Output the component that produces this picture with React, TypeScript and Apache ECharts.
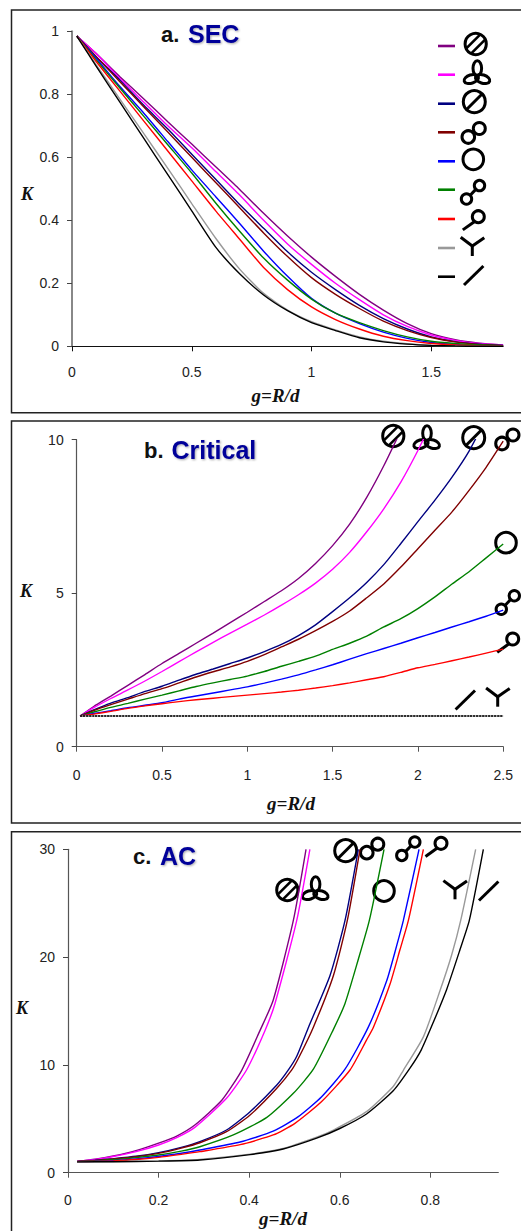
import React, { useEffect, useRef } from "react";
import * as echarts from "echarts";

// ---------- Panel a: SEC ----------
const secG = [0.02, 0.1, 0.2, 0.3, 0.4, 0.5, 0.6, 0.7, 0.8, 0.9, 1, 1.1, 1.2, 1.3, 1.4, 1.5, 1.6, 1.7, 1.8];
const secPurple = [0.985, 0.93, 0.856, 0.785, 0.713, 0.642, 0.57, 0.498, 0.422, 0.35, 0.283, 0.222, 0.165, 0.115, 0.072, 0.04, 0.021, 0.01, 0.004];
const secMagenta = [0.985, 0.93, 0.85, 0.775, 0.7, 0.63, 0.555, 0.48, 0.4, 0.325, 0.26, 0.2, 0.148, 0.1, 0.063, 0.036, 0.019, 0.009, 0.004];
const secNavy = [0.985, 0.92, 0.845, 0.765, 0.69, 0.61, 0.53, 0.45, 0.375, 0.3, 0.235, 0.18, 0.13, 0.088, 0.055, 0.03, 0.015, 0.007, 0.003];
const secMaroon = [0.985, 0.92, 0.84, 0.76, 0.68, 0.6, 0.52, 0.44, 0.36, 0.285, 0.218, 0.165, 0.12, 0.08, 0.05, 0.028, 0.014, 0.006, 0.002];
const secBlue = [0.985, 0.915, 0.825, 0.74, 0.65, 0.56, 0.475, 0.39, 0.302, 0.222, 0.152, 0.105, 0.072, 0.045, 0.025, 0.012, 0.006, 0.003, 0.001];
const secGreen = [0.985, 0.91, 0.82, 0.73, 0.64, 0.55, 0.455, 0.365, 0.28, 0.21, 0.15, 0.105, 0.075, 0.05, 0.03, 0.016, 0.009, 0.004, 0.002];
const secRed = [0.985, 0.905, 0.81, 0.715, 0.62, 0.525, 0.43, 0.34, 0.25, 0.18, 0.125, 0.085, 0.055, 0.032, 0.018, 0.009, 0.004, 0.002, 0.001];
const secGray = [0.985, 0.895, 0.785, 0.675, 0.565, 0.453, 0.343, 0.245, 0.168, 0.115, 0.078, 0.052, 0.03, 0.016, 0.008, 0.003, 0.001, 0.0005, 0];
const secBlack = [0.985, 0.89, 0.775, 0.66, 0.545, 0.43, 0.315, 0.23, 0.163, 0.113, 0.075, 0.05, 0.027, 0.014, 0.007, 0.003, 0.001, 0, 0];

// ---------- Panel b: Critical ----------
const critG = [0.02, 0.1, 0.2, 0.3, 0.4, 0.5, 0.6, 0.7, 0.8, 0.9, 1, 1.1, 1.2, 1.3, 1.4, 1.5, 1.6, 1.7, 1.8, 1.9, 2, 2.1, 2.2, 2.3, 2.4, 2.5];
const critPurple = [1, 1.31, 1.65, 2, 2.35, 2.71, 3.04, 3.37, 3.7, 4.04, 4.38, 4.73, 5.08, 5.48, 5.97, 6.55, 7.25, 8.12, 9.15, 10.3];
const critMagenta = [1, 1.27, 1.57, 1.85, 2.14, 2.45, 2.77, 3.09, 3.4, 3.7, 3.99, 4.29, 4.61, 4.95, 5.33, 5.78, 6.33, 7, 7.75, 8.62, 9.65, 10.8];
const critNavy = [1, 1.2, 1.42, 1.6, 1.8, 1.97, 2.17, 2.36, 2.53, 2.71, 2.89, 3.1, 3.33, 3.62, 3.97, 4.4, 4.85, 5.35, 5.93, 6.62, 7.33, 8.03, 8.78, 9.63, 10.7];
const critMaroon = [1, 1.18, 1.37, 1.55, 1.73, 1.89, 2.08, 2.27, 2.44, 2.6, 2.78, 3, 3.25, 3.5, 3.78, 4.08, 4.42, 4.85, 5.3, 5.85, 6.45, 7.05, 7.65, 8.35, 9.1, 9.95];
const critGreen = [1, 1.13, 1.28, 1.41, 1.55, 1.68, 1.82, 1.96, 2.08, 2.19, 2.3, 2.45, 2.62, 2.78, 2.95, 3.17, 3.37, 3.6, 3.9, 4.17, 4.5, 4.88, 5.3, 5.7, 6.15, 6.6];
const critBlue = [1, 1.08, 1.17, 1.27, 1.35, 1.43, 1.55, 1.65, 1.75, 1.85, 1.95, 2.07, 2.2, 2.34, 2.5, 2.67, 2.85, 3.03, 3.2, 3.37, 3.55, 3.72, 3.9, 4.07, 4.25, 4.45];
const critRed = [1, 1.06, 1.15, 1.25, 1.33, 1.4, 1.47, 1.53, 1.58, 1.63, 1.68, 1.73, 1.78, 1.84, 1.91, 1.99, 2.08, 2.18, 2.28, 2.42, 2.57, 2.68, 2.8, 2.92, 3.05, 3.18];
const critGray = [1, 1, 1, 1, 1, 1, 1, 1, 1, 1, 1, 1, 1, 1, 1, 1, 1, 1, 1, 1, 1, 1, 1, 1, 1, 1];
const critBlack = [1, 1, 1, 1, 1, 1, 1, 1, 1, 1, 1, 1, 1, 1, 1, 1, 1, 1, 1, 1, 1, 1, 1, 1, 1, 1];

// ---------- Panel c: AC, as [g, K] readings ----------
const acPurple = [[0.02, 1.05], [0.06, 1.25], [0.1, 1.55], [0.15, 2.05], [0.2, 2.75], [0.24, 3.4], [0.28, 4.42], [0.34, 6.74], [0.3835, 9.5], [0.424, 13.2], [0.453, 16], [0.4975, 23.4], [0.5255, 30]];
const acMagenta = [[0.02, 1.05], [0.06, 1.22], [0.1, 1.5], [0.15, 1.95], [0.2, 2.57], [0.24, 3.25], [0.28, 4.2], [0.35, 6.9], [0.3945, 9.55], [0.435, 13.2], [0.457, 15.7], [0.505, 23.4], [0.534, 30]];
const acNavy = [[0.02, 1.05], [0.06, 1.15], [0.1, 1.3], [0.15, 1.52], [0.2, 1.86], [0.25, 2.35], [0.291, 2.88], [0.35, 3.96], [0.402, 5.66], [0.461, 8.13], [0.4865, 9.53], [0.505, 10.8], [0.531, 13.5], [0.5785, 18.3], [0.6116, 23.4], [0.641, 30]];
const acMaroon = [[0.02, 1.05], [0.06, 1.13], [0.1, 1.27], [0.15, 1.48], [0.2, 1.79], [0.25, 2.28], [0.291, 2.78], [0.35, 3.8], [0.402, 5.35], [0.461, 7.83], [0.494, 9.53], [0.511, 10.8], [0.5417, 13.5], [0.586, 18.3], [0.6167, 23.4], [0.6447, 30]];
const acGreen = [[0.02, 1.03], [0.06, 1.1], [0.1, 1.2], [0.15, 1.4], [0.2, 1.64], [0.25, 2], [0.291, 2.41], [0.365, 3.5], [0.439, 5.13], [0.4975, 7.36], [0.5417, 9.6], [0.586, 13.3], [0.6116, 15.7], [0.641, 19.8], [0.6653, 23.4], [0.6977, 30]];
const acBlue = [[0.02, 1.03], [0.06, 1.06], [0.1, 1.12], [0.15, 1.28], [0.2, 1.5], [0.25, 1.8], [0.291, 2.1], [0.38, 2.85], [0.453, 3.85], [0.5085, 5.2], [0.56, 7.05], [0.6116, 9.6], [0.663, 13.5], [0.7036, 17.8], [0.722, 20.5], [0.7404, 23.4], [0.775, 30]];
const acRed = [[0.02, 1.03], [0.06, 1.05], [0.1, 1.1], [0.15, 1.22], [0.2, 1.42], [0.25, 1.7], [0.291, 1.95], [0.38, 2.6], [0.453, 3.5], [0.501, 4.58], [0.56, 6.6], [0.6226, 9.53], [0.659, 12.3], [0.6743, 13.5], [0.711, 17.5], [0.733, 20.7], [0.7515, 23.4], [0.7846, 30]];
const acGray = [[0.02, 1], [0.1, 1.03], [0.2, 1.1], [0.291, 1.24], [0.402, 1.72], [0.475, 2.25], [0.549, 3.3], [0.586, 3.96], [0.659, 5.66], [0.718, 8], [0.7404, 9.5], [0.7846, 12.6], [0.8214, 16.9], [0.847, 20.2], [0.867, 23.4], [0.9, 30]];
const acBlack = [[0.02, 1], [0.1, 1.02], [0.2, 1.07], [0.291, 1.18], [0.402, 1.68], [0.475, 2.2], [0.549, 3.2], [0.6, 4.1], [0.659, 5.45], [0.718, 7.6], [0.755, 9.7], [0.78, 11.4], [0.807, 14], [0.836, 17], [0.8655, 20.7], [0.886, 23.4], [0.917, 30]];

// ---------- Axis ticks ----------
const secXTicks = [0, 0.5, 1, 1.5];
const secYTicks = [0, 0.2, 0.4, 0.6, 0.8, 1];
const critXTicks = [0, 0.5, 1, 1.5, 2, 2.5];
const critYTicks = [0, 5, 10];
const acXTicks = [0, 0.2, 0.4, 0.6, 0.8];
const acYTicks = [0, 10, 20, 30];

const seriesNames = ["striped circle x2", "trefoil", "striped circle", "two overlapping", "circle", "dumbbell", "lollipop", "Y", "line"];
const seriesColors = ["#800080", "#FF00FF", "#000080", "#800000", "#0000FF", "#008000", "#FF0000", "#999999", "#000000"];
const lowerPanelColors = ["#800080", "#FF00FF", "#000080", "#800000", "#008000", "#0000FF", "#FF0000", "#999999", "#000000"];

const SANS = '"Liberation Sans", Arial, sans-serif';
const SERIF = '"Liberation Serif", "Times New Roman", serif';

type P = [number, number];
const SW = 3;
const line = (a: P, b: P, w = SW) => ({
  type: "line",
  shape: { x1: a[0], y1: a[1], x2: b[0], y2: b[1] },
  style: { stroke: "#000", lineWidth: w, fill: "none" },
});
const circle = (c: P, r: number, w = SW) => ({
  type: "circle",
  shape: { cx: c[0], cy: c[1], r },
  style: { stroke: "#000", lineWidth: w, fill: "none" },
});
const ellipse = (c: P, rx: number, ry: number, rotation: number) => ({
  type: "ellipse",
  x: c[0],
  y: c[1],
  rotation,
  shape: { cx: 0, cy: 0, rx, ry },
  style: { stroke: "#000", lineWidth: SW, fill: "none" },
});

function icon(kind: string, cx: number, cy: number): any[] {
  const at = (dx: number, dy: number): P => [cx + dx, cy + dy];
  switch (kind) {
    case "hatched":
      return [circle(at(0, 0), 10.6), line(at(-4.9, 9.9), at(9.9, -4.9), 2.6), line(at(-9.9, 4.9), at(4.9, -9.9), 2.6)];
    case "tri":
      return [ellipse(at(1.3, -6.7), 4.3, 7.5, 0), ellipse(at(-4.7, 4), 7.4, 4.2, 0.3), ellipse(at(6.6, 4), 7.4, 4.2, -0.3)];
    case "slashed":
      return [circle(at(0, 0), 11), line(at(-8, 8), at(8, -8))];
    case "two":
      return [circle(at(-5.5, 4), 6.3), circle(at(5.5, -4.5), 6)];
    case "ring":
      return [circle(at(0, 0), 10.3)];
    case "dumbbell":
      return [circle(at(-6.5, 6.7), 5.2), circle(at(6.5, -6.7), 5.2), line(at(-3, 3.2), at(3, -3.2))];
    case "tail":
      return [circle(at(0, 0), 6), line(at(-4, 5), at(-15.5, 13.2))];
    case "Y":
      return [line(at(0, 0), at(-11.6, -8.7)), line(at(0, 0), at(12, -8.3)), line(at(0, -1), at(0, 10))];
    case "slash":
      return [line(at(-9.7, 9.5), at(9.7, -9.5))];
  }
  return [];
}

const legendKinds = ["hatched", "tri", "slashed", "two", "ring", "dumbbell", "tail", "Y", "slash"];
const legendSwatchY = [46, 74.7, 103.7, 132.3, 161.3, 189.7, 219, 248, 276.7];
const legendIconPos: P[] = [[475.7, 44], [476, 75], [474.3, 101.7], [473.8, 133], [473.3, 159.3], [473, 192.3], [478.3, 216.7], [472.3, 246], [473.7, 275.5]];
const critIconPos: [string, number, number][] = [
  ["hatched", 393.3, 436], ["tri", 425.7, 440], ["slashed", 473.7, 437.7], ["two", 507.5, 439.5],
  ["ring", 506, 542.7], ["dumbbell", 507.8, 602.5], ["tail", 512.7, 639], ["slash", 465.3, 700], ["Y", 497.7, 696.7],
];
const acIconPos: [string, number, number][] = [
  ["hatched", 287.3, 890], ["tri", 314.3, 891], ["slashed", 345.7, 850.7], ["two", 372.3, 848.7],
  ["ring", 384, 891], ["dumbbell", 408.3, 848.7], ["tail", 441, 843.3], ["Y", 455, 889.3], ["slash", 488.7, 891],
];

const text = (s: string, x: number, y: number, font: string, fill: string, align = "left", extra: any = {}) => ({
  type: "text",
  x,
  y,
  style: { text: s, font, fill, align, verticalAlign: "middle", ...extra },
});
const titleTone = "#000099";
const shadow = { textShadowColor: "rgba(0,0,0,0.35)", textShadowBlur: 2, textShadowOffsetX: 1, textShadowOffsetY: 1 };

function buildOption() {
  const grids = [
    { left: 72, top: 31.3, width: 431.1, height: 315 },
    { left: 76.7, top: 439.7, width: 426.5, height: 307 },
    { left: 68, top: 849.3, width: 430.3, height: 323.4 },
  ];
  const labelStyle = { fontFamily: SANS, fontSize: 14, color: "#222" };
  const xAxis = (gridIndex: number, max: number, ticks: number[], lineColor: string, margin: number) => ({
    type: "value", gridIndex, min: 0, max,
    splitLine: { show: false },
    axisLine: { onZero: false, lineStyle: { color: lineColor, width: 1.2 } },
    axisTick: { length: 5, lineStyle: { color: lineColor, width: 1 }, customValues: ticks },
    axisLabel: { ...labelStyle, margin, customValues: ticks },
  });
  const yAxis = (gridIndex: number, max: number, ticks: number[], lineColor: string, lineWidth: number) => ({
    type: "value", gridIndex, min: 0, max,
    splitLine: { show: false },
    axisLine: { show: true, onZero: false, lineStyle: { color: lineColor, width: lineWidth } },
    axisTick: { show: true, length: 5, lineStyle: { color: "#444", width: 1 }, customValues: ticks },
    axisLabel: { ...labelStyle, margin: 13, customValues: ticks },
  });

  const secVals = [secPurple, secMagenta, secNavy, secMaroon, secBlue, secGreen, secRed, secGray, secBlack];
  const critVals = [critPurple, critMagenta, critNavy, critMaroon, critGreen, critBlue, critRed, critGray, critBlack];
  const acVals = [acPurple, acMagenta, acNavy, acMaroon, acGreen, acBlue, acRed, acGray, acBlack];

  const mk = (name: string, color: string, data: any[], gridIndex: number, extra: any = {}) => ({
    type: "line", name, xAxisIndex: gridIndex, yAxisIndex: gridIndex, data,
    showSymbol: false, symbol: "none", smooth: 0.2, clip: true,
    lineStyle: { color, width: 1.4, ...extra },
    itemStyle: { color },
    z: 3,
  });
  const series: any[] = [];
  secVals.forEach((v, i) => series.push(mk(seriesNames[i], seriesColors[i], v.map((k, j) => [secG[j], k]), 0)));
  critVals.forEach((v, i) =>
    series.push(mk(seriesNames[i], lowerPanelColors[i], v.map((k, j) => [critG[j], k]), 1, i === 8 ? { type: [2, 1] } : {})),
  );
  acVals.forEach((v, i) => series.push(mk(seriesNames[i], lowerPanelColors[i], v, 2)));

  const graphic: any[] = [];
  const frame = (y: number, h: number) => ({
    type: "rect",
    shape: { x: 11.5, y, width: 540, height: h },
    style: { stroke: "#222", lineWidth: 1.5, fill: "none" },
    z: 1,
  });
  graphic.push(frame(10, 402.7), frame(421, 402), frame(831.7, 440));

  legendSwatchY.forEach((y, i) => {
    graphic.push({
      type: "line",
      shape: { x1: 438, y1: y, x2: 455, y2: y },
      style: { stroke: seriesColors[i], lineWidth: 2.6 },
    });
    graphic.push(...icon(legendKinds[i], legendIconPos[i][0], legendIconPos[i][1]));
  });
  critIconPos.forEach(([k, x, y]) => graphic.push(...icon(k, x, y)));
  acIconPos.forEach(([k, x, y]) => graphic.push(...icon(k, x, y)));

  const labelFont = `bold 22px ${SANS}`;
  const nameFont = `bold 25px ${SANS}`;
  graphic.push(text("a.", 161, 34, labelFont, "#111"), text("SEC", 188, 33.5, nameFont, titleTone, "left", shadow));
  graphic.push(text("b.", 144, 450, labelFont, "#111"), text("Critical", 171.5, 449.5, nameFont, titleTone, "left", shadow));
  graphic.push(text("c.", 133, 856, labelFont, "#111"), text("AC", 160, 855.5, nameFont, titleTone, "left", shadow));

  const kFont = `italic bold 18px ${SERIF}`;
  const gFont = `italic bold 19px ${SERIF}`;
  graphic.push(text("K", 27, 193.5, kFont, "#111", "center"), text("K", 26, 591, kFont, "#111", "center"), text("K", 22, 1008, kFont, "#111", "center"));
  graphic.push(text("g=R/d", 275.5, 395.5, gFont, "#111", "center"), text("g=R/d", 291, 803, gFont, "#111", "center"), text("g=R/d", 283, 1218, gFont, "#111", "center"));

  return {
    animation: false,
    backgroundColor: "#fff",
    grid: grids,
    xAxis: [xAxis(0, 1.8, secXTicks, "#111", 19), xAxis(1, 2.5, critXTicks, "#555", 21), xAxis(2, 0.95, acXTicks, "#555", 20)],
    yAxis: [yAxis(0, 1, secYTicks, "#888", 2), yAxis(1, 10, critYTicks, "#555", 1.2), yAxis(2, 30, acYTicks, "#555", 1.2)],
    series,
    graphic,
  };
}

export default function App() {
  const ref = useRef<HTMLDivElement>(null);
  useEffect(() => {
    document.body.style.margin = "0";
    const chart = echarts.init(ref.current!, undefined, { renderer: "svg" });
    chart.setOption(buildOption() as any);
    return () => chart.dispose();
  }, []);
  return <div ref={ref} style={{ width: 521, height: 1231 }} />;
}
